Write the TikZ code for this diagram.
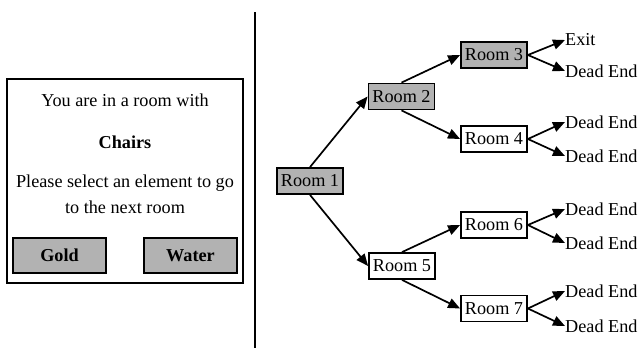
\documentclass[tikz,border=0pt]{standalone}
\usepackage{fontspec}
\setmainfont{Liberation Serif}
\usetikzlibrary{arrows.meta}
\begin{document}
\begin{tikzpicture}[x=1pt,y=-1pt,
  fnt/.style={font=\fontsize{18.2}{21}\selectfont},
  txt/.style={fnt, inner sep=0pt},
  room/.style={draw, line width=1.8pt, fnt, minimum width=66pt, minimum height=26pt, inner sep=0pt},
  grayroom/.style={room, fill=gray!60},
  btn/.style={draw, line width=1.8pt, fill=gray!60, font=\fontsize{18.2}{21}\selectfont\bfseries, minimum width=93pt, minimum height=35pt, inner sep=0pt},
  leaf/.style={txt, anchor=west},
  arr/.style={line width=1.7pt, -{Triangle[length=12pt,width=10pt]}}]
\useasboundingbox (0,0) rectangle (639,348);
% left panel
\node[draw, line width=1.8pt, minimum width=236pt, minimum height=204pt, inner sep=0pt] (panel) at (125,181) {};
\node[txt] (t1) at (125,100) {You are in a room with};
\node[txt, font=\fontsize{18.2}{21}\selectfont\bfseries] (t2) at (125,142) {Chairs};
\node[txt] (t3) at (125,183) {Please select an element to go};
\node[txt] (t4) at (125,207) {to the next room};
\node[btn] (gold) at (59.5,255.5) {Gold};
\node[btn] (water) at (190.5,255.5) {Water};
% divider
\coordinate (dtop) at (255,12);
\coordinate (dbot) at (255,348);
\draw[line width=1.6pt] (dtop) -- (dbot);
% tree
\node[grayroom] (r1) at (310,181) {Room 1};
\node[grayroom] (r2) at (401.5,96.5) {Room 2};
\node[grayroom] (r3) at (494,55) {Room 3};
\node[room] (r4) at (494,139) {Room 4};
\node[room] (r5) at (402,266) {Room 5};
\node[room] (r6) at (494,225) {Room 6};
\node[room] (r7) at (494,308.5) {Room 7};
\node[leaf] (e3a) at (565,40) {Exit};
\node[leaf] (e3b) at (565,71) {Dead End};
\node[leaf] (e4a) at (565,122) {Dead End};
\node[leaf] (e4b) at (565,156) {Dead End};
\node[leaf] (e6a) at (565,209) {Dead End};
\node[leaf] (e6b) at (565,243) {Dead End};
\node[leaf] (e7a) at (565,291) {Dead End};
\node[leaf] (e7b) at (565,326) {Dead End};
\draw[arr] (r1.north) -- (r2.west);
\draw[arr] (r1.south) -- (r5.west);
\draw[arr] (r2.north) -- (r3.west);
\draw[arr] (r2.south) -- (r4.west);
\draw[arr] (r5.north) -- (r6.west);
\draw[arr] (r5.south) -- (r7.west);
\draw[arr] (r3.east) -- (e3a.west);
\draw[arr] (r3.east) -- (e3b.west);
\draw[arr] (r4.east) -- (e4a.west);
\draw[arr] (r4.east) -- (e4b.west);
\draw[arr] (r6.east) -- (e6a.west);
\draw[arr] (r6.east) -- (e6b.west);
\draw[arr] (r7.east) -- (e7a.west);
\draw[arr] (r7.east) -- (e7b.west);
\end{tikzpicture}
\end{document}
